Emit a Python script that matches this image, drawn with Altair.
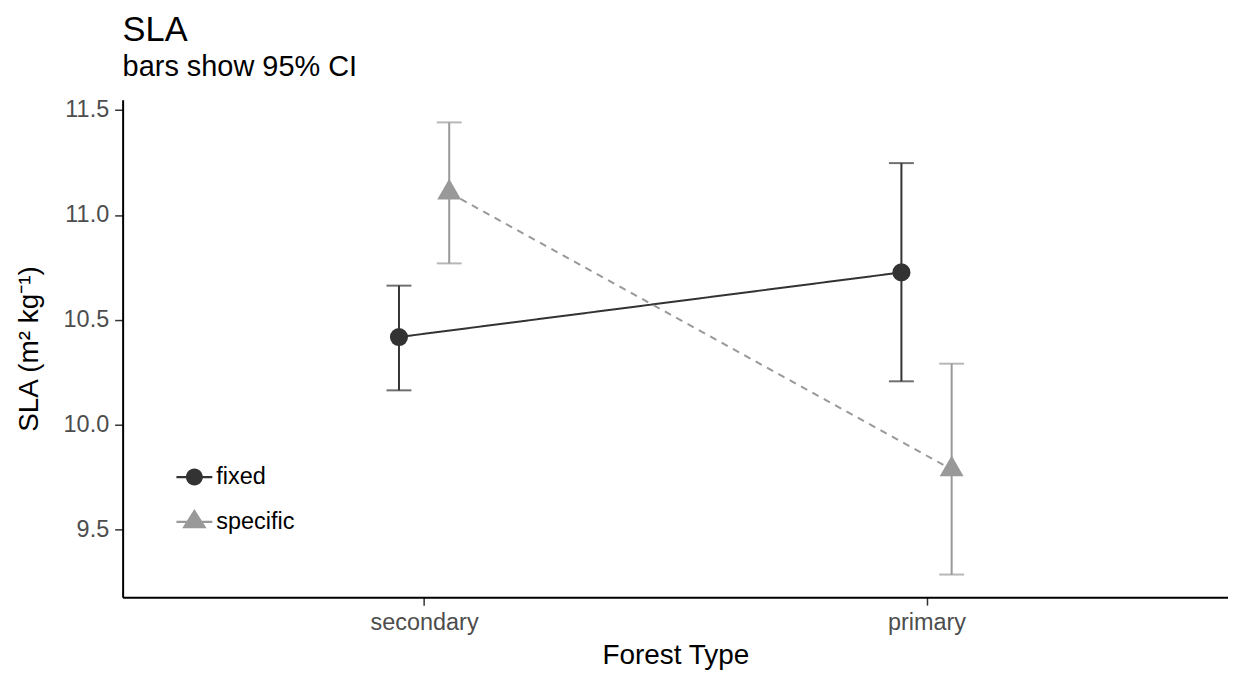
import json
import altair as alt
import pandas as pd

# ---- data ----
forest = ["secondary", "primary"]
series = ["fixed", "specific"]
fixed_mean = [10.418, 10.726]
fixed_lo = [10.164, 10.207]
fixed_hi = [10.663, 11.247]
specific_mean = [11.106, 9.787]
specific_lo = [10.769, 9.286]
specific_hi = [11.441, 10.291]
y_ticks = [9.5, 10.0, 10.5, 11.0, 11.5]

colors = ["#333333", "#999999"]
FONT = "Liberation Sans"

rows = []
for s, m, lo, hi in [("fixed", fixed_mean, fixed_lo, fixed_hi),
                     ("specific", specific_mean, specific_lo, specific_hi)]:
    for i, f in enumerate(forest):
        rows.append({"forest": f, "fi": i + 1, "series": s,
                     "mean": m[i], "lo": lo[i], "hi": hi[i]})
df = pd.DataFrame(rows)

all_lo = min(fixed_lo + specific_lo)
all_hi = max(fixed_hi + specific_hi)
pad = 0.05 * (all_hi - all_lo)
ydom = [all_lo - pad, all_hi + pad]

xscale = alt.Scale(domain=[0.4, len(forest) + 0.6], nice=False, zero=False)
yscale = alt.Scale(domain=ydom, nice=False, zero=False)
color = alt.Color("series:N", scale=alt.Scale(domain=series, range=colors), legend=None)

label_expr = json.dumps(forest) + "[datum.value - 1]"

x_main = alt.X("xpos:Q", scale=xscale,
               axis=alt.Axis(values=list(range(1, len(forest) + 1)), labelExpr=label_expr,
                             title="Forest Type", grid=False, labelPadding=5, titlePadding=8))
x_plain = alt.X("xpos:Q", scale=xscale)
y_main = alt.Y("mean:Q", scale=yscale,
               axis=alt.Axis(values=y_ticks, format=".1f", title="SLA (m² kg⁻¹)",
                             grid=False, labelPadding=6, titlePadding=20))

base = alt.Chart(df).transform_calculate(
    xpos="datum.fi + (datum.series == 'fixed' ? -0.05 : 0.05)"
)

lines = base.mark_line(strokeWidth=2).encode(
    x=x_main, y=y_main, color=color,
    strokeDash=alt.StrokeDash("series:N", scale=alt.Scale(domain=series, range=[[1, 0], [7, 6]]),
                              legend=None),
)

rules = base.mark_rule(strokeWidth=2).encode(
    x=x_plain, y=alt.Y("lo:Q", scale=yscale), y2="hi:Q", color=color
)
cap_hi = base.mark_tick(orient="horizontal", size=25, thickness=2).encode(
    x=x_plain, y=alt.Y("hi:Q", scale=yscale), color=color
)
cap_lo = base.mark_tick(orient="horizontal", size=25, thickness=2).encode(
    x=x_plain, y=alt.Y("lo:Q", scale=yscale), color=color
)

# custom symbol paths live in a [-1, 1] box scaled by sqrt(size)/2
tri_path = "M0,-1.155L1,0.577L-1,0.577Z"
points = base.mark_point(filled=True, opacity=1).encode(
    x=x_plain, y=alt.Y("mean:Q", scale=yscale), color=color,
    shape=alt.Shape("series:N", scale=alt.Scale(domain=series, range=["circle", tri_path]),
                    legend=None),
    size=alt.Size("series:N", scale=alt.Scale(domain=series, range=[330, 576]), legend=None),
)

seg = "M-1,-0.06H-0.3V0.06H-1ZM0.3,-0.06H1V0.06H0.3Z"
leg_paths = [
    seg + "M0.47,0A0.47,0.47,0,1,1,-0.47,0A0.47,0.47,0,1,1,0.47,0Z",
    seg + "M0,-0.72L0.68,0.36L-0.68,0.36Z",
]
legend_layers = []
for k, (s, c, p) in enumerate(zip(series, colors, leg_paths)):
    legend_layers.append(
        base.transform_filter(alt.datum.series == s).mark_point(
            filled=True, opacity=0, fill=c
        ).encode(
            x=x_plain, y=alt.Y("mean:Q", scale=yscale),
            shape=alt.Shape(
                "series:N",
                scale=alt.Scale(domain=[s], range=[p]),
                legend=alt.Legend(
                    title=None, orient="none", legendX=54, legendY=360.5 + 45 * k,
                    symbolSize=1296, symbolStrokeWidth=0, symbolOpacity=1,
                    symbolFillColor=c,
                    labelFontSize=23.5, labelFont=FONT, labelColor="black",
                    labelOffset=4, padding=0,
                ),
            ),
        )
    )

chart = alt.layer(lines, rules, cap_hi, cap_lo, points, *legend_layers).resolve_scale(
    shape="independent"
).properties(
    width=1109, height=499,
    autosize=alt.AutoSizeParams(type="none"),
    padding={"left": 115, "top": 91, "right": 0, "bottom": 76},
    title=alt.TitleParams(
        text="SLA", subtitle="bars show 95% CI", anchor="start", frame="group",
        fontSize=34.5, subtitleFontSize=29, font=FONT, subtitleFont=FONT,
        fontWeight="normal", color="black", subtitleColor="black",
        offset=15, subtitlePadding=5,
    ),
).configure_view(stroke=None).configure_axis(
    domainColor="black", domainWidth=2,
    tickColor="#333333", tickWidth=1.5, tickSize=8,
    labelColor="#4D4D4D", labelFontSize=23.5, labelFont=FONT,
    titleColor="black", titleFontSize=28, titleFont=FONT, titleFontWeight="normal",
)

chart.save("out.html", embed_options={"renderer": "svg", "actions": False})
